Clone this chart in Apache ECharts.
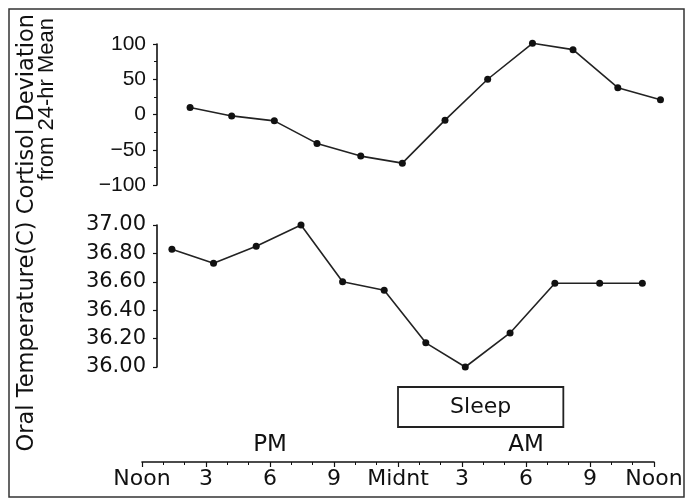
<!DOCTYPE html>
<html>
<head>
<meta charset="utf-8">
<script src="https://cdn.jsdelivr.net/npm/echarts@6/dist/echarts.min.js"></script>
<style>
html,body{margin:0;padding:0;background:#fff;}
#c{width:686px;height:500px;}
</style>
</head>
<body>
<div id="c"></div>
<script>
// ---- data ----
// hours after noon at which each sample is plotted
const cortisolHours = [2.25, 4.2, 6.2, 8.2, 10.25, 12.2, 14.2, 16.2, 18.3, 20.2, 22.3, 24.3];
const cortisolValues = [10, -2, -9, -41, -59, -69, -8, 50, 101, 92, 38, 21];
const tempHours = [1.4, 3.35, 5.35, 7.45, 9.4, 11.35, 13.3, 15.15, 17.25, 19.35, 21.45, 23.45];
const tempValues = [36.83, 36.73, 36.85, 37.00, 36.60, 36.54, 36.17, 36.00, 36.24, 36.59, 36.59, 36.59];
const timeTickLabels = ['Noon', '3', '6', '9', 'Midnt', '3', '6', '9', 'Noon'];
const periodHours = [6, 18];
const periodLabels = ['PM', 'AM'];
const sleepStart = 12;
const sleepEnd = 19.75;
const sleepLabel = 'Sleep';
const cortisolTitle = 'Oral Temperature(C) Cortisol Deviation';
const cortisolTitle2 = 'from 24-hr Mean';

const ink = '#111';
const sans = '"Liberation Sans", Arial, sans-serif';
const wide = '"DejaVu Sans", sans-serif';

const chart = echarts.init(document.getElementById('c'), null, {renderer: 'canvas'});

const hourPx = 512 / 24;
const dataXMin = 0.7, dataXMax = 25;
const dataGridWidth = (dataXMax - dataXMin) * hourPx;

function pairs(xs, ys) { return xs.map((x, i) => [x, ys[i]]); }

const lineSeriesStyle = {
  type: 'line',
  symbol: 'circle',
  symbolSize: 7,
  itemStyle: {color: '#111'},
  lineStyle: {color: '#222', width: 1.6},
  silent: true,
  animation: false,
  clip: false
};

const option = {
  backgroundColor: '#fff',
  animation: false,
  grid: [
    {left: 157, top: 44, width: dataGridWidth, height: 141},
    {left: 157, top: 225, width: dataGridWidth, height: 142},
    {left: 142, top: 387, width: 512, height: 75}
  ],
  xAxis: [
    {gridIndex: 0, type: 'value', min: dataXMin, max: dataXMax, show: false},
    {gridIndex: 1, type: 'value', min: dataXMin, max: dataXMax, show: false},
    {
      gridIndex: 2, type: 'value', min: 0, max: 24, interval: 3,
      axisLine: {show: true, onZero: false, lineStyle: {color: ink, width: 1.6}},
      axisTick: {show: true, length: 5, lineStyle: {color: ink, width: 1.2}},
      minorTick: {show: true, splitNumber: 3, length: 3, lineStyle: {color: ink, width: 1}},
      splitLine: {show: false},
      axisLabel: {
        margin: 6, fontSize: 22, fontFamily: wide, color: ink,
        formatter: v => timeTickLabels[Math.round(v / 3)]
      }
    }
  ],
  yAxis: [
    {
      gridIndex: 0, type: 'value', min: -100, max: 100, interval: 50,
      axisLine: {show: true, lineStyle: {color: ink, width: 1.6}},
      axisTick: {show: true, length: 4, lineStyle: {color: ink, width: 1.2}},
      minorTick: {show: true, splitNumber: 2, length: 3, lineStyle: {color: ink}},
      splitLine: {show: false},
      axisLabel: {
        margin: 11, fontSize: 21, fontFamily: sans, color: ink,
        formatter: v => String(v).replace('-', '\u2212')
      }
    },
    {
      gridIndex: 1, type: 'value', min: 36, max: 37, interval: 0.2,
      axisLine: {show: true, lineStyle: {color: ink, width: 1.6}},
      axisTick: {show: true, length: 4, lineStyle: {color: ink, width: 1.2}},
      splitLine: {show: false},
      axisLabel: {
        margin: 11, fontSize: 21, fontFamily: wide, color: ink,
        formatter: v => v.toFixed(2)
      }
    },
    {gridIndex: 2, type: 'value', min: 0, max: 1, show: false}
  ],
  series: [
    Object.assign({}, lineSeriesStyle, {xAxisIndex: 0, yAxisIndex: 0, data: pairs(cortisolHours, cortisolValues)}),
    Object.assign({}, lineSeriesStyle, {xAxisIndex: 1, yAxisIndex: 1, data: pairs(tempHours, tempValues)}),
    {
      type: 'custom', xAxisIndex: 2, yAxisIndex: 2, silent: true, clip: false,
      data: [[sleepStart, sleepEnd, 1]],
      renderItem: function (params, api) {
        const a = api.coord([api.value(0), api.value(2)]);
        const b = api.coord([api.value(1), api.value(2)]);
        const h = 40;
        return {
          type: 'group',
          children: [
            {type: 'rect', shape: {x: a[0], y: a[1], width: b[0] - a[0], height: h},
             style: {fill: '#fff', stroke: '#222', lineWidth: 1.8}},
            {type: 'text', x: (a[0] + b[0]) / 2, y: a[1] + h / 2,
             style: {text: sleepLabel, fontSize: 22, fontFamily: wide, fill: ink, align: 'center', verticalAlign: 'middle'}}
          ]
        };
      }
    },
    {
      type: 'custom', xAxisIndex: 2, yAxisIndex: 2, silent: true, clip: false,
      data: periodHours.map((h, i) => [h, 0, i]),
      renderItem: function (params, api) {
        const p = api.coord([api.value(0), api.value(1)]);
        return {
          type: 'text', x: p[0], y: p[1] - 5,
          style: {text: periodLabels[api.value(2)], fontSize: 23, fontFamily: wide, fill: ink,
                  align: 'center', verticalAlign: 'bottom'}
        };
      }
    }
  ],
  graphic: [
    {type: 'rect', shape: {x: 9, y: 9, width: 675, height: 488}, style: {fill: 'none', stroke: '#333', lineWidth: 1.5}, silent: true},
    {type: 'text', x: 27, y: 14, rotation: Math.PI / 2,
     style: {text: cortisolTitle, fontSize: 22.5, fontFamily: wide, fill: ink, align: 'right', verticalAlign: 'middle'}},
    {type: 'text', x: 47, y: 18, rotation: Math.PI / 2,
     style: {text: cortisolTitle2, fontSize: 22, fontFamily: sans, fill: ink, align: 'right', verticalAlign: 'middle'}}
  ]
};
chart.setOption(option);
</script>
</body>
</html>
